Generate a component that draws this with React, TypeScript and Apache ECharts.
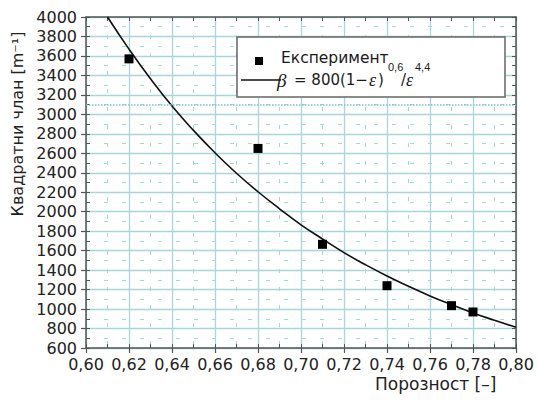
import React, { useEffect, useRef } from "react";
import * as echarts from "echarts";

const xTicks = [0.6, 0.62, 0.64, 0.66, 0.68, 0.7, 0.72, 0.74, 0.76, 0.78, 0.8];
const yMin = 600;
const yMax = 4000;

// Experimental points (porosity, quadratic term)
const expX = [0.62, 0.68, 0.71, 0.74, 0.77, 0.78];
const expY = [3570, 2650, 1665, 1240, 1035, 970];

// Model curve
const curveX = [0.61, 0.62, 0.63, 0.64, 0.65, 0.66, 0.67, 0.68, 0.69, 0.7, 0.71, 0.72, 0.73, 0.74, 0.75, 0.76, 0.77, 0.78, 0.79, 0.8];
const curveY = [4000, 3670, 3365, 3085, 2835, 2605, 2395, 2205, 2030, 1865, 1720, 1580, 1455, 1340, 1235, 1135, 1045, 960, 885, 812];

const legendExp = "Експеримент";
const yTitle = "Квадратни члан [m⁻¹]";
const xTitle = "Порозност [–]";

const FONT = "DejaVu Sans";
const LFONT = "Liberation Sans";
const SERIF = "Liberation Serif";
const AXIS = "#555";
const GRID = "#a6d8d8";
const INK = "#1a1a1a";

export default function App() {
  const ref = useRef<HTMLDivElement>(null);
  useEffect(() => {
    if (!ref.current) return;
    const chart = echarts.init(ref.current, undefined, { renderer: "svg" });
    const xMin = xTicks[0];
    const xMax = xTicks[xTicks.length - 1];
    const fmtX = (v: number) => v.toFixed(2).replace(".", ",");
    const hidden = { show: false };
    const txt = (x: number, y: number, text: string, font: string, size: number, italic = false) => ({
      type: "text", z: 101, x, y,
      style: {
        text, fontFamily: font, fontSize: size, fontStyle: italic ? "italic" : "normal",
        fill: INK, textAlign: "left", textVerticalAlign: "middle",
      },
    });
    chart.setOption({
      animation: false,
      backgroundColor: "#fff",
      grid: { left: 86, right: 22, top: 17, bottom: 55 },
      xAxis: [
        {
          type: "value", min: xMin, max: xMax, interval: 0.02, position: "bottom",
          axisLine: { show: true, onZero: false, lineStyle: { color: AXIS, width: 1.5 } },
          axisTick: { show: true, inside: false, length: 5, lineStyle: { color: AXIS, width: 1.2 } },
          axisLabel: { formatter: fmtX, color: "#222", fontFamily: FONT, fontSize: 16, margin: 8 },
          splitLine: { show: true, lineStyle: { color: GRID, width: 1.3 } },
          minorTick: { show: false, splitNumber: 2 },
          minorSplitLine: { show: true, lineStyle: { color: GRID, width: 1, type: [4, 14] } },
        },
        {
          type: "value", min: xMin, max: xMax, interval: 0.01, position: "bottom",
          axisLine: { show: false, onZero: false },
          axisTick: { show: true, inside: true, length: 4, lineStyle: { color: AXIS, width: 1 } },
          axisLabel: hidden, splitLine: hidden,
        },
        {
          type: "value", min: xMin, max: xMax, interval: 0.01, position: "top",
          axisLine: { show: true, onZero: false, lineStyle: { color: AXIS, width: 1.5 } },
          axisTick: { show: true, inside: true, length: 4, lineStyle: { color: AXIS, width: 1 } },
          axisLabel: hidden, splitLine: hidden,
        },
      ],
      yAxis: [
        {
          type: "value", min: yMin, max: yMax, interval: 200, position: "left",
          axisLine: { show: true, onZero: false, lineStyle: { color: AXIS, width: 1.5 } },
          axisTick: { show: true, inside: false, length: 5, lineStyle: { color: AXIS, width: 1.2 } },
          axisLabel: { formatter: (v: number) => String(v), color: "#222", fontFamily: FONT, fontSize: 16, margin: 9 },
          splitLine: { show: true, lineStyle: { color: GRID, width: 1.3 } },
          minorTick: { show: false, splitNumber: 2 },
          minorSplitLine: { show: true, lineStyle: { color: GRID, width: 1, type: [4, 14] } },
        },
        {
          type: "value", min: yMin, max: yMax, interval: 100, position: "left",
          axisLine: { show: false, onZero: false },
          axisTick: { show: true, inside: true, length: 4, lineStyle: { color: AXIS, width: 1 } },
          axisLabel: hidden, splitLine: hidden,
        },
        {
          type: "value", min: yMin, max: yMax, interval: 100, position: "right",
          axisLine: { show: true, onZero: false, lineStyle: { color: AXIS, width: 1.5 } },
          axisTick: { show: true, inside: true, length: 4, lineStyle: { color: AXIS, width: 1 } },
          axisLabel: hidden, splitLine: hidden,
        },
      ],
      series: [
        {
          type: "line",
          data: curveX.map((x, i) => [x, curveY[i]]),
          showSymbol: false, symbol: "none", smooth: true,
          lineStyle: { color: "#111", width: 1.6 },
          clip: true, z: 3,
          markLine: {
            silent: true, symbol: "none", label: { show: false },
            lineStyle: { color: "#7cc4c4", type: "dotted", width: 1.5 },
            data: [{ yAxis: 3100 }],
          },
        },
        {
          type: "scatter",
          data: expX.map((x, i) => [x, expY[i]]),
          symbol: "rect", symbolSize: 9,
          itemStyle: { color: "#000", opacity: 1 }, z: 4,
        },
      ],
      graphic: [
        {
          type: "rect", z: 100,
          shape: { x: 237, y: 37, width: 268, height: 60 },
          style: { fill: "#fff", stroke: "#666", lineWidth: 1.5 },
        },
        {
          type: "rect", z: 101,
          shape: { x: 255, y: 57, width: 8, height: 8 },
          style: { fill: "#000" },
        },
        {
          type: "line", z: 101,
          shape: { x1: 241, y1: 80, x2: 281, y2: 80 },
          style: { stroke: "#111", lineWidth: 1.6 },
        },
        txt(281, 58, legendExp, FONT, 15.5),
        txt(277, 80, "β", SERIF, 19, true),
        txt(294, 80, "= 800(1−", FONT, 15),
        txt(369, 80, "ε", SERIF, 18, true),
        txt(378, 80, ")", FONT, 15),
        txt(388, 67, "0,6", LFONT, 11),
        txt(401, 80, "/", FONT, 15),
        txt(406, 80, "ε", SERIF, 18, true),
        txt(415, 67, "4,4", LFONT, 11),
        {
          type: "text", x: 17, y: 124, rotation: Math.PI / 2,
          style: { text: yTitle, fontFamily: FONT, fontSize: 16, fill: "#222", textAlign: "center", textVerticalAlign: "middle" },
        },
        {
          type: "text", x: 375, y: 384,
          style: { text: xTitle, fontFamily: FONT, fontSize: 17, fill: "#222", textAlign: "left", textVerticalAlign: "middle" },
        },
      ],
    });
    return () => chart.dispose();
  }, []);
  return <div ref={ref} style={{ width: 538, height: 403, position: "absolute", left: 0, top: 0 }} />;
}
